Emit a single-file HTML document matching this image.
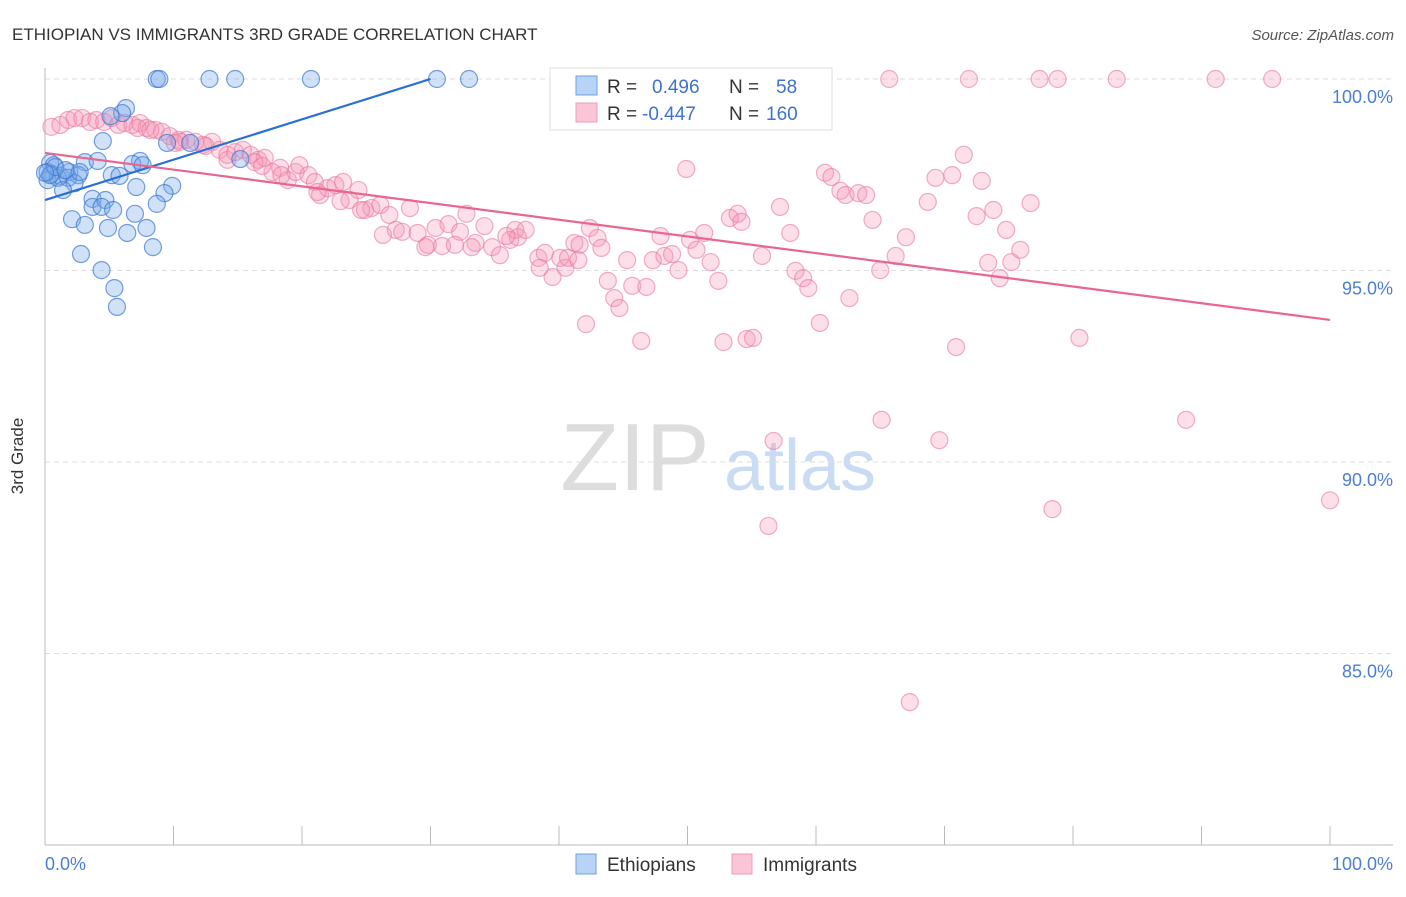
<!DOCTYPE html>
<html><head><meta charset="utf-8"><style>
body{margin:0;background:#fff;font-family:"Liberation Sans",sans-serif}
svg text{font-family:"Liberation Sans",sans-serif}
</style></head><body>
<svg width="1406" height="892" xmlns="http://www.w3.org/2000/svg">
<text x="12" y="40" font-size="17" fill="#333">ETHIOPIAN VS IMMIGRANTS 3RD GRADE CORRELATION CHART</text>
<text x="1394" y="40" font-size="15" fill="#555" font-style="italic" text-anchor="end">Source: ZipAtlas.com</text>
<g>
<text x="635" y="490" font-size="96" fill="#ddd" font-family="Liberation Serif,serif" text-anchor="middle">ZIP</text>
<text x="800" y="490" font-size="72" fill="#c9dcf3" text-anchor="middle">atlas</text>
</g>
<g id="grid"></g>
<line x1="45" y1="68" x2="45" y2="845" stroke="#bbb"/>
<line x1="45" y1="845" x2="1393" y2="845" stroke="#bbb"/>
<text x="23" y="456" font-size="17" fill="#333" text-anchor="middle" transform="rotate(-90 23 456)">3rd Grade</text>
<text x="45" y="870" font-size="18" fill="#4a7fd4">0.0%</text>
<text x="1393" y="870" font-size="18" fill="#4a7fd4" text-anchor="end">100.0%</text>
<g id="pts"></g>
<g id="lines"></g>
<g>
<rect x="550" y="68" width="282" height="62" fill="#fff" stroke="#ddd"/>
<rect x="576" y="76" width="21" height="19" fill="#b8d3f5" stroke="#6fa0e0"/>
<rect x="576" y="103" width="21" height="19" fill="#fac5d6" stroke="#ef9ab7"/>
<text x="607" y="93" font-size="19" fill="#333">R = </text>
<text x="652" y="93" font-size="19" fill="#3d72d0">0.496</text>
<text x="729" y="93" font-size="19" fill="#333">N = </text>
<text x="776" y="93" font-size="19" fill="#3d72d0">58</text>
<text x="607" y="120" font-size="19" fill="#333">R = </text>
<text x="642" y="120" font-size="19" fill="#3d72d0">-0.447</text>
<text x="729" y="120" font-size="19" fill="#333">N = </text>
<text x="766" y="120" font-size="19" fill="#3d72d0">160</text>
</g>
<g>
<rect x="576" y="854" width="20" height="20" fill="#b8d3f5" stroke="#6fa0e0"/>
<text x="607" y="871" font-size="19" fill="#333">Ethiopians</text>
<rect x="732" y="854" width="20" height="20" fill="#fac5d6" stroke="#ef9ab7"/>
<text x="763" y="871" font-size="19" fill="#333">Immigrants</text>
</g>
</svg>
<script>
const yTicks=[100,95,90,85];
const yTickLabels=["100.0%","95.0%","90.0%","85.0%"];
const xTicks=[0,10,20,30,40,50,60,70,80,90,100];
const blueX=[8.7,8.9,12.8,14.8,20.7,30.5,33.0,6.3,6.0,4.5,9.5,11.3,15.2,0.4,0.7,3.1,4.1,7.4,6.8,7.6,0.2,0.5,1.2,1.9,2.6,0.2,1.0,1.8,2.3,5.2,5.8,1.4,7.1,9.9,9.3,3.7,3.7,4.7,4.4,5.3,8.7,2.1,3.1,7.0,4.9,6.4,7.9,8.4,2.8,4.4,5.4,5.6,0.4,0.8,2.7,0.0,1.6,5.1];
const blueY=[100,100,100,100,100,100,100,99.24,99.11,98.38,98.33,98.33,97.91,97.81,97.75,97.83,97.86,97.86,97.78,97.75,97.57,97.52,97.47,97.57,97.49,97.36,97.42,97.42,97.28,97.49,97.47,97.10,97.18,97.21,97.02,96.87,96.66,96.84,96.66,96.58,96.74,96.34,96.19,96.48,96.11,95.98,96.11,95.61,95.43,95.01,94.54,94.05,97.49,97.70,97.57,97.55,97.62,99.03];
const pinkX=[65.7,71.9,77.4,78.8,83.4,91.1,95.5,60.0,0.5,1.2,1.8,2.3,2.9,3.5,4.0,4.6,5.2,5.7,6.2,6.8,7.4,7.9,8.6,9.1,9.7,10.4,11.0,11.7,12.3,13.0,13.6,14.2,14.8,15.4,16.0,16.6,17.1,17.7,18.3,18.9,19.5,19.8,20.5,21.0,21.4,22.0,22.6,23.2,23.7,24.4,24.9,25.4,26.1,26.8,27.3,27.8,28.4,29.0,29.8,30.4,30.9,31.4,32.3,32.8,33.5,34.2,34.8,35.4,36.2,36.6,36.8,37.4,38.4,38.9,39.5,40.1,40.5,41.2,41.6,42.1,42.4,43.0,43.3,43.8,44.3,44.7,45.3,45.7,46.4,46.8,47.3,47.9,48.2,48.8,49.3,49.9,50.2,50.7,51.3,51.8,52.4,52.8,53.3,53.9,54.2,54.6,55.1,55.8,56.7,57.2,58.0,58.4,59.0,59.4,60.3,60.7,61.2,61.9,62.3,62.6,63.3,63.9,64.4,65.0,65.1,66.2,67.0,67.3,68.7,69.3,69.6,70.6,70.9,71.5,72.5,72.9,73.4,73.8,74.3,74.8,75.2,75.9,76.7,78.4,80.5,88.8,100.0,56.3,7.2,8.2,10.1,10.5,12.5,14.2,16.3,16.9,18.4,21.2,23.0,24.6,26.3,29.6,31.9,33.2,35.9,38.5,40.7,41.5];
const pinkY=[100,100,100,100,100,100,100,99.11,98.75,98.80,98.93,98.98,98.98,98.88,98.93,98.88,98.98,98.80,98.85,98.80,98.85,98.72,98.67,98.62,98.51,98.41,98.41,98.36,98.28,98.36,98.15,97.89,98.09,98.15,98.02,97.89,97.94,97.57,97.68,97.36,97.57,97.75,97.49,97.31,96.97,97.15,97.23,97.31,96.84,97.10,96.58,96.63,96.71,96.45,96.06,96.01,96.63,95.98,95.67,96.11,95.64,96.21,96.01,96.48,95.72,96.16,95.61,95.40,95.80,96.06,95.87,96.06,95.33,95.46,94.83,95.33,95.07,95.72,95.67,93.60,96.11,95.85,95.59,94.73,94.28,94.02,95.27,94.60,93.16,94.57,95.27,95.90,95.38,95.43,95.01,97.65,95.80,95.54,95.98,95.22,94.73,93.13,96.37,96.48,96.27,93.21,93.24,95.38,90.55,96.66,95.98,94.99,94.80,94.54,93.63,97.55,97.44,97.08,96.97,94.28,97.02,96.97,96.32,95.01,91.10,95.38,95.87,83.73,96.79,97.42,90.57,97.49,93.00,98.02,96.42,97.34,95.20,96.58,94.80,96.06,95.22,95.54,96.76,88.77,93.24,91.10,89.00,88.33,98.72,98.67,98.33,98.36,98.25,98.02,97.83,97.73,97.49,97.05,96.81,96.58,95.93,95.61,95.67,95.61,95.90,95.07,95.33,95.27];
const blueTrendX=[0,30];
const blueTrendY=[96.84,100];
const pinkTrendX=[0,100];
const pinkTrendY=[98.07,93.71];

const NS="http://www.w3.org/2000/svg";
function sx(v){return 45+v*12.85;}
function sy(v){return 79+(100-v)*38.3;}
const grid=document.getElementById('grid');
yTicks.forEach((t,i)=>{
 const l=document.createElementNS(NS,'line');
 l.setAttribute('x1',45);l.setAttribute('x2',1393);l.setAttribute('y1',sy(t));l.setAttribute('y2',sy(t));
 l.setAttribute('stroke','#ddd');l.setAttribute('stroke-dasharray','5,4');
 
 
 grid.appendChild(l);
 const tx=document.createElementNS(NS,'text');
 tx.setAttribute('x',1393);tx.setAttribute('y',sy(t)+24);tx.setAttribute('text-anchor','end');
 tx.setAttribute('font-size','18');tx.setAttribute('fill','#4a7fd4');tx.textContent=yTickLabels[i];
 
 
 grid.appendChild(tx);
});
xTicks.forEach(t=>{
 const l=document.createElementNS(NS,'line');
 l.setAttribute('x1',sx(t));l.setAttribute('x2',sx(t));l.setAttribute('y1',826);l.setAttribute('y2',845);
 l.setAttribute('stroke','#bbb');
 
 
 grid.appendChild(l);
});
const pts=document.getElementById('pts');
function dot(x,y,fill,stroke,name){
 const c=document.createElementNS(NS,'circle');
 c.setAttribute('cx',sx(x));c.setAttribute('cy',sy(y));c.setAttribute('r',8.5);
 c.setAttribute('fill',fill);c.setAttribute('stroke',stroke);c.setAttribute('stroke-width','1.2');
 
 
 pts.appendChild(c);
}
pinkX.forEach((x,i)=>dot(x,pinkY[i],'rgba(244,150,180,0.3)','rgba(233,120,160,0.6)','immigrants-point'));
blueX.forEach((x,i)=>dot(x,blueY[i],'rgba(120,170,235,0.35)','rgba(60,120,210,0.7)','ethiopians-point'));
const lines=document.getElementById('lines');
function tl(xs,ys,col,name){
 const l=document.createElementNS(NS,'line');
 l.setAttribute('x1',sx(xs[0]));l.setAttribute('y1',sy(ys[0]));l.setAttribute('x2',sx(xs[1]));l.setAttribute('y2',sy(ys[1]));
 l.setAttribute('stroke',col);l.setAttribute('stroke-width','2.2');
 
 
 lines.appendChild(l);
}
tl(blueTrendX,blueTrendY,'#2a6fd6','ethiopians-trend-line');
tl(pinkTrendX,pinkTrendY,'#e8668f','immigrants-trend-line');
</script>
</body></html>
